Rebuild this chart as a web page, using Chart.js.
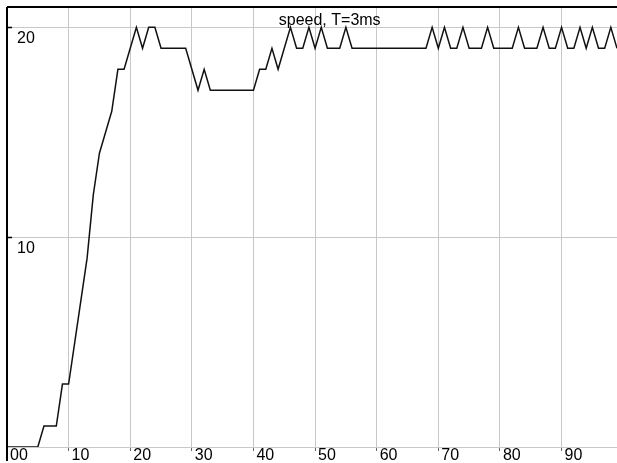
<!DOCTYPE html>
<html>
<head>
<meta charset="utf-8">
<script src="https://cdn.jsdelivr.net/npm/chart.js@4/dist/chart.umd.min.js"></script>
<style>
  html, body { margin: 0; padding: 0; background: #ffffff; }
  #wrap { width: 617px; height: 463px; }
</style>
</head>
<body>
<div id="wrap"><canvas id="c" width="617" height="463"></canvas></div>
<script>
// sample index (one sample every T = 3 ms)
const sampleIndex = [
  0, 1, 2, 3, 4, 5, 6, 7, 8, 9,
  10, 11, 12, 13, 14, 15, 16, 17, 18, 19,
  20, 21, 22, 23, 24, 25, 26, 27, 28, 29,
  30, 31, 32, 33, 34, 35, 36, 37, 38, 39,
  40, 41, 42, 43, 44, 45, 46, 47, 48, 49,
  50, 51, 52, 53, 54, 55, 56, 57, 58, 59,
  60, 61, 62, 63, 64, 65, 66, 67, 68, 69,
  70, 71, 72, 73, 74, 75, 76, 77, 78, 79,
  80, 81, 82, 83, 84, 85, 86, 87, 88, 89,
  90, 91, 92, 93, 94, 95, 96, 97, 98, 99
];

// measured speed per sample
const speed = [
  0, 0, 0, 0, 0, 0, 1, 1, 1, 3,
  3, 5, 7, 9, 12, 14, 15, 16, 18, 18,
  19, 20, 19, 20, 20, 19, 19, 19, 19, 19,
  18, 17, 18, 17, 17, 17, 17, 17, 17, 17,
  17, 18, 18, 19, 18, 19, 20, 19, 19, 20,
  19, 20, 19, 19, 19, 20, 19, 19, 19, 19,
  19, 19, 19, 19, 19, 19, 19, 19, 19, 20,
  19, 20, 19, 19, 20, 19, 19, 19, 20, 19,
  19, 19, 19, 20, 19, 19, 19, 20, 19, 19,
  20, 19, 19, 20, 19, 20, 19, 19, 20, 19
];

const xTickLabels = ['00', '10', '20', '30', '40', '50', '60', '70', '80', '90'];
const yTickLabels = ['', '10', '20'];
const chartTitle = 'speed, T=3ms';

const FONT = '"Liberation Sans", Arial, sans-serif';
const GRID = '#c8c8c8';

// frame lines, inner y tick marks and the caption
const framePlugin = {
  id: 'frame',
  afterDraw(chart) {
    const { ctx, chartArea, scales } = chart;
    ctx.save();
    ctx.strokeStyle = '#000';
    ctx.lineWidth = 2;
    ctx.beginPath();
    ctx.moveTo(chartArea.left, chartArea.top);
    ctx.lineTo(chart.width, chartArea.top);
    ctx.moveTo(chartArea.left, chartArea.top);
    ctx.lineTo(chartArea.left, chart.height - 2);
    ctx.stroke();

    ctx.lineWidth = 1.5;
    ctx.beginPath();
    scales.y.ticks.forEach(t => {
      if (t.value === 0) return;
      const py = Math.round(scales.y.getPixelForValue(t.value)) + 0.5;
      ctx.moveTo(chartArea.left, py);
      ctx.lineTo(chartArea.left + 5, py);
    });
    ctx.stroke();

    ctx.fillStyle = '#000';
    ctx.font = '16px ' + FONT;
    ctx.textAlign = 'center';
    ctx.textBaseline = 'alphabetic';
    ctx.fillText(chartTitle, chartArea.left + chartArea.width * 0.529, chartArea.top + 18);
    ctx.restore();
  }
};

function noPad(scale) {
  scale.paddingTop = 0;
  scale.paddingBottom = 0;
  scale.paddingLeft = 0;
  scale.paddingRight = 0;
}

new Chart(document.getElementById('c'), {
  type: 'line',
  data: {
    datasets: [{
      label: chartTitle,
      data: sampleIndex.map((t, i) => ({ x: t, y: speed[i] })),
      borderColor: '#111111',
      borderWidth: 1.5,
      pointRadius: 0,
      tension: 0,
      fill: false
    }]
  },
  options: {
    responsive: false,
    animation: false,
    layout: { padding: { top: 7, left: 0, right: 0, bottom: 0 } },
    plugins: {
      legend: { display: false },
      title: { display: false },
      tooltip: { enabled: false }
    },
    scales: {
      x: {
        type: 'linear',
        min: 0,
        max: 99,
        afterFit(scale) { scale.height = 16; noPad(scale); },
        grid: { color: GRID, lineWidth: 1, drawTicks: true, tickLength: 4, tickColor: '#666' },
        border: { display: true, color: GRID },
        ticks: {
          stepSize: 10,
          includeBounds: false,
          autoSkip: false,
          maxRotation: 0,
          minRotation: 0,
          align: 'start',
          labelOffset: 3,
          padding: -3,
          color: '#000',
          font: { family: FONT, size: 16, lineHeight: 1 },
          callback: (v) => xTickLabels[Math.round(v / 10)] ?? ''
        }
      },
      y: {
        type: 'linear',
        min: 0,
        max: 20.97,
        afterFit(scale) { scale.width = 7; noPad(scale); },
        grid: { color: GRID, lineWidth: 1, drawTicks: false },
        border: { display: false },
        ticks: {
          stepSize: 10,
          includeBounds: false,
          mirror: true,
          padding: 10,
          labelOffset: 11,
          color: '#000',
          font: { family: FONT, size: 16 },
          callback: (v) => yTickLabels[Math.round(v / 10)] ?? ''
        }
      }
    }
  },
  plugins: [framePlugin]
});
</script>
</body>
</html>
